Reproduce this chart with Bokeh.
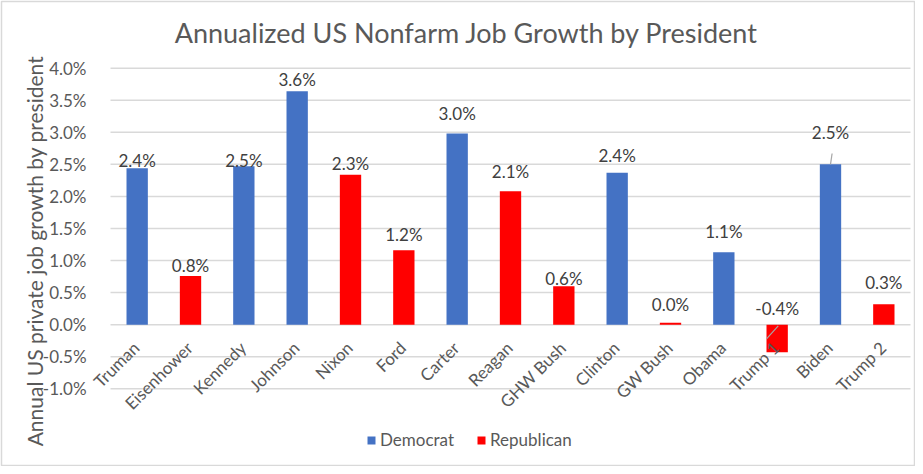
import math
from bokeh.plotting import figure
from bokeh.models import (Range1d, FixedTicker, PrintfTickFormatter, ColumnDataSource,
                          Legend, LegendItem, LabelSet, Label)
from bokeh.embed import file_html
from bokeh.resources import INLINE
from bokeh.core.properties import value

presidents = ["Truman", "Eisenhower", "Kennedy", "Johnson", "Nixon", "Ford", "Carter",
              "Reagan", "GHW Bush", "Clinton", "GW Bush", "Obama", "Trump 1", "Biden", "Trump 2"]
party = ["Democrat", "Republican", "Democrat", "Democrat", "Republican", "Republican", "Democrat",
         "Republican", "Republican", "Democrat", "Republican", "Democrat", "Republican", "Democrat", "Republican"]
growth = [2.44, 0.76, 2.47, 3.64, 2.34, 1.16, 2.98, 2.08, 0.60, 2.37, 0.03, 1.13, -0.43, 2.50, 0.32]
y_ticks = [-1.0, -0.5, 0.0, 0.5, 1.0, 1.5, 2.0, 2.5, 3.0, 3.5, 4.0]

# styling: label vertical offsets in px (manual placements in the original)
label_dy = [8, 10, 6, 12, 11, 16, 20, 20, 8, 17, 18, 21, 16, 32, 22]

FONT = "Lato"
GREY = "#595959"
colors = {"Democrat": "#4472C4", "Republican": "#FF0000"}

idx = list(range(len(presidents)))
src = ColumnDataSource(dict(
    x=idx, top=growth, party=party,
    color=[colors[p] for p in party],
    ly=[max(v, 0) for v in growth],
    dy=label_dy,
    txt=[f"{v:.1f}%" for v in growth],
))

# the frame spans the whole figure (its outline is the chart border); axes are pinned inside
n = len(presidents)
p = figure(width=915, height=466, output_backend="svg", toolbar_location=None,
           x_range=Range1d(-2.544, n - 0.425), y_range=Range1d(-2.196, 5.040),
           min_border_left=1, min_border_right=1, min_border_top=1, min_border_bottom=1)
p.outline_line_color = "#D9D9D9"
p.outline_line_width = 1.5
p.background_fill_color = "white"
p.border_fill_color = "white"

title = Label(x=6.175, y=4.556, text="Annualized US Nonfarm Job Growth by President",
              text_align="center", text_baseline="middle",
              text_font=FONT, text_font_size="27px", text_color=GREY)
p.add_layout(title)

ylab = Label(x=-1.925, y=1.19, angle=math.pi / 2,
             text="Annual US private  job growth by president",
             text_align="center", text_baseline="middle",
             text_font=FONT, text_font_size="21px", text_color=GREY)
p.add_layout(ylab)

# horizontal gridlines across the category area only
grid = p.segment(x0=-0.5, x1=n - 0.5, y0=y_ticks, y1=y_ticks,
                 line_color="#D9D9D9", line_width=1.5)
grid.level = "underlay"

r = p.vbar(x="x", top="top", width=0.4, color="color", line_color=None, source=src)

labels = LabelSet(x="x", y="ly", text="txt", y_offset="dy", source=src,
                  text_align="center", text_baseline="middle",
                  text_font=value(FONT), text_font_size="17px", text_color="#404040")
p.add_layout(labels)

# leader lines (derived from bar values)
i_t1 = presidents.index("Trump 1")
i_b = presidents.index("Biden")
p.segment(x0=[i_t1 + 0.02, i_b], y0=[-0.02, growth[i_b]],
          x1=[i_t1 - 0.2, i_b + 0.03], y1=[-0.22, growth[i_b] + 0.17],
          line_color="#A6A6A6", line_width=1.2)

# axes
p.yaxis.ticker = FixedTicker(ticks=y_ticks)
p.yaxis.formatter = PrintfTickFormatter(format="%.1f%%")
p.yaxis.major_label_text_font = FONT
p.yaxis.major_label_text_font_size = "17px"
p.yaxis.major_label_text_color = GREY
p.yaxis.axis_line_color = None
p.yaxis.major_tick_line_color = None
p.yaxis.minor_tick_line_color = None
p.yaxis.major_label_standoff = 18
p.yaxis.fixed_location = -0.5

p.xaxis.ticker = FixedTicker(ticks=[i - 0.02 for i in idx])
p.xaxis.major_label_overrides = {i - 0.02: nm for i, nm in zip(idx, presidents)}
p.xaxis.major_label_orientation = math.pi / 4
p.xaxis.major_label_text_font = FONT
p.xaxis.major_label_text_font_size = "17px"
p.xaxis.major_label_text_color = GREY
p.xaxis.axis_line_color = None
p.xaxis.major_tick_line_color = None
p.xaxis.minor_tick_line_color = None
p.xaxis.major_label_standoff = 14
p.xaxis.fixed_location = 0

p.xgrid.grid_line_color = None
p.ygrid.grid_line_color = None

# legend (uses the bar renderer's glyph)
legend = Legend(items=[LegendItem(label="Democrat", renderers=[r], index=0),
                       LegendItem(label="Republican", renderers=[r], index=1)],
                orientation="horizontal", location=(365, 15),
                label_text_font=FONT, label_text_font_size="17px", label_text_color=GREY,
                border_line_color=None, background_fill_alpha=0,
                glyph_width=10, glyph_height=10, spacing=22, label_standoff=4,
                margin=0, padding=0)
p.add_layout(legend)

open("out.html", "w").write(file_html(p, INLINE))
